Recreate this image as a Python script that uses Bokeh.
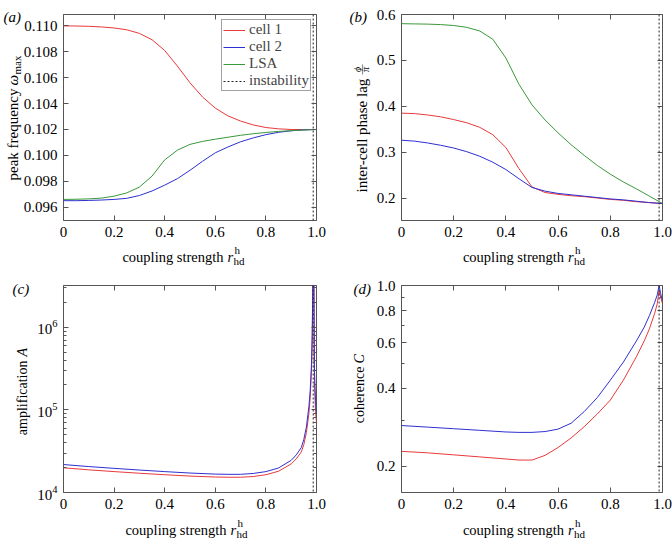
import math
from bokeh.plotting import figure
from bokeh.layouts import gridplot
from bokeh.core.properties import value
from bokeh.models import (Range1d, FixedTicker, LinearAxis, LogAxis, Span,
                          Legend, LegendItem, PrintfTickFormatter)
from bokeh.embed import file_html
from bokeh.resources import INLINE

# ---------------- data ----------------
instability = 0.987

x_ab = [0.0, 0.05, 0.1, 0.15, 0.2, 0.25, 0.3, 0.35, 0.4, 0.45, 0.5,
        0.55, 0.6, 0.65, 0.7, 0.75, 0.8, 0.85, 0.9, 0.95, 1.0]
a_cell1 = [0.11000, 0.10999, 0.10997, 0.10992, 0.10984, 0.10970, 0.10942, 0.10893,
           0.10810, 0.10690, 0.10560, 0.10450, 0.10365, 0.10305, 0.10265, 0.10235,
           0.10215, 0.10205, 0.10200, 0.10199, 0.10200]
a_cell2 = [0.09650, 0.09650, 0.09652, 0.09655, 0.09660, 0.09668, 0.09690, 0.09725,
           0.09770, 0.09820, 0.09885, 0.09955, 0.10020, 0.10065, 0.10105, 0.10135,
           0.10160, 0.10178, 0.10190, 0.10197, 0.10200]
a_lsa = [0.09660, 0.09661, 0.09664, 0.09670, 0.09685, 0.09710, 0.09755, 0.09840,
         0.09965, 0.10040, 0.10085, 0.10108, 0.10125, 0.10140, 0.10155, 0.10167,
         0.10177, 0.10185, 0.10191, 0.10196, 0.10200]

b_cell1 = [0.385, 0.384, 0.381, 0.377, 0.371, 0.364, 0.354, 0.338, 0.310, 0.264, 0.224,
           0.212, 0.208, 0.205, 0.203, 0.200, 0.197, 0.195, 0.192, 0.190, 0.188]
b_cell2 = [0.326, 0.324, 0.320, 0.315, 0.309, 0.301, 0.291, 0.278, 0.262, 0.242, 0.223,
           0.215, 0.210, 0.207, 0.204, 0.201, 0.198, 0.196, 0.193, 0.190, 0.188]
b_lsa = [0.580, 0.5795, 0.579, 0.578, 0.576, 0.572, 0.564, 0.546, 0.505, 0.448, 0.403,
         0.370, 0.342, 0.316, 0.293, 0.271, 0.252, 0.235, 0.220, 0.204, 0.188]

x_c = [0.0, 0.1, 0.2, 0.3, 0.4, 0.5, 0.6, 0.65, 0.7, 0.75, 0.8, 0.85, 0.9, 0.92, 0.94,
       0.95, 0.96, 0.97, 0.975, 0.98, 0.983, 0.985, 0.986, 0.989, 0.992, 0.996, 1.0]
c_cell1 = [1.99e4, 1.88e4, 1.79e4, 1.71e4, 1.64e4, 1.58e4, 1.54e4, 1.53e4, 1.53e4, 1.56e4,
           1.64e4, 1.81e4, 2.22e4, 2.55e4, 3.1e4, 3.8e4, 5.3e4, 9.0e4, 1.4e5, 2.9e5,
           6.5e5, 2.1e6, 7e6, 7e6, 2.2e5, 9.5e4, 7.0e4]
c_cell2 = [2.18e4, 2.06e4, 1.96e4, 1.87e4, 1.79e4, 1.72e4, 1.67e4, 1.66e4, 1.66e4, 1.70e4,
           1.79e4, 1.98e4, 2.45e4, 2.85e4, 3.5e4, 4.4e4, 6.2e4, 1.1e5, 1.7e5, 3.5e5,
           8.0e5, 2.5e6, 8e6, 8e6, 3.0e5, 1.3e5, 9.0e4]

x_d = [0.0, 0.1, 0.2, 0.3, 0.4, 0.45, 0.5, 0.55, 0.6, 0.65, 0.7, 0.75, 0.8, 0.85, 0.9,
       0.93, 0.95, 0.97, 0.98, 0.987, 0.993, 1.0]
d_cell1 = [0.228, 0.225, 0.221, 0.217, 0.213, 0.211, 0.211, 0.220, 0.236, 0.257, 0.284,
           0.318, 0.360, 0.430, 0.530, 0.610, 0.680, 0.780, 0.850, 0.955, 0.900, 0.850]
d_cell2 = [0.287, 0.283, 0.279, 0.275, 0.271, 0.270, 0.270, 0.272, 0.278, 0.293, 0.325,
           0.368, 0.430, 0.505, 0.610, 0.690, 0.765, 0.860, 0.920, 1.000, 0.930, 0.870]

x_ticks = [0.0, 0.2, 0.4, 0.6, 0.8, 1.0]
a_yticks = [0.096, 0.098, 0.100, 0.102, 0.104, 0.106, 0.108, 0.110]
a_yrange = (0.09497, 0.11088)
b_yticks = [0.2, 0.3, 0.4, 0.5, 0.6]
b_yrange = (0.151, 0.6)
c_yticks = [1e4, 1e5, 1e6]
c_yminor = [2e4, 3e4, 4e4, 5e4, 6e4, 7e4, 8e4, 9e4, 2e5, 3e5, 4e5, 5e5, 6e5, 7e5,
            8e5, 9e5, 2e6, 3e6]
c_yrange = (1e4, 3.2e6)
d_yticks = [0.2, 0.4, 0.6, 0.8, 1.0]
d_yminor = [0.3, 0.5, 0.7, 0.9]
d_yrange = (0.158, 1.0)

RED = "#e8393b"
BLUE = "#2f2fd1"
GREEN = "#3a983a"
FRAME = "#555555"
DASH = "#222222"
FONT = "Liberation Serif"


def style_axis(ax, labels=True):
    ax.axis_line_color = None
    ax.major_tick_in = 5
    ax.major_tick_out = 0
    ax.minor_tick_in = 3
    ax.minor_tick_out = 0
    ax.major_tick_line_color = FRAME
    ax.minor_tick_line_color = FRAME
    ax.major_label_text_font = FONT
    if labels:
        ax.major_label_text_color = "black"
        ax.major_label_text_font_size = "15px"
        ax.major_label_standoff = 6
    else:
        ax.major_label_text_color = None
        ax.major_label_text_font_size = "1px"
        ax.major_label_standoff = 0


def make_fig(w, h, bl, br, bt, bb, yr, ytype, yticks, yminor, yfmt, span=True):
    p = figure(width=w, height=h, x_range=Range1d(0, 1), y_range=Range1d(*yr),
               y_axis_type=ytype, output_backend="svg", toolbar_location=None,
               min_border_left=bl, min_border_right=br, min_border_top=bt,
               min_border_bottom=bb)
    p.grid.visible = False
    p.outline_line_color = FRAME
    p.outline_line_width = 1
    p.background_fill_color = "white"
    p.border_fill_color = "white"
    p.xaxis.ticker = FixedTicker(ticks=x_ticks, minor_ticks=[])
    p.xaxis.formatter = PrintfTickFormatter(format="%.1f")
    p.xaxis.major_label_overrides = {0.0: "0"}
    p.yaxis.ticker = FixedTicker(ticks=yticks, minor_ticks=yminor)
    if yfmt is not None:
        p.yaxis.formatter = PrintfTickFormatter(format=yfmt)
    style_axis(p.xaxis[0])
    style_axis(p.yaxis[0])
    top = LinearAxis(ticker=FixedTicker(ticks=x_ticks, minor_ticks=[]))
    style_axis(top, labels=False)
    p.add_layout(top, "above")
    if ytype == "log":
        right = LogAxis(ticker=FixedTicker(ticks=yticks, minor_ticks=yminor))
    else:
        right = LinearAxis(ticker=FixedTicker(ticks=yticks, minor_ticks=yminor))
    style_axis(right, labels=False)
    p.add_layout(right, "right")
    if span:
        p.add_layout(Span(location=instability, dimension="height", line_color=DASH,
                          line_dash="2 2", line_width=1))
    return p


def lab(p, yr, x, y, text, size=14, italic=False, angle=0.0, align="left",
        baseline="alphabetic"):
    # text anchored at the frame's bottom-left corner, shifted by (x, -y) pixels
    p.text(x=[0.0], y=[yr[0]], text=[text], x_offset=x, y_offset=-y, angle=angle,
           text_align=align, text_baseline=baseline,
           text_font=value(FONT), text_font_size=value(f"{size}px"),
           text_font_style="italic" if italic else "normal",
           text_color="black", level="overlay")


def vlab(p, yr, x, y, text, size=15, italic=False, align="left"):
    lab(p, yr, x, y, text, size=size, italic=italic, angle=math.pi / 2, align=align,
        baseline="middle")


def xtitle(p, yr, fw, off):
    q = fw / 2 + 36
    lab(p, yr, q - 4, -off, "coupling strength", size=14.5, align="right")
    lab(p, yr, q, -off, "r", size=14.5, italic=True)
    lab(p, yr, q + 7, -off + 7, "h", size=11)
    lab(p, yr, q + 6, -off - 4, "hd", size=11)


# ---------------- panel (a) ----------------
pa = make_fig(336, 270, 63, 17, 14, 50, a_yrange, "linear", a_yticks, [], "%.3f",
              span=False)
r1 = pa.line(x_ab, a_cell1, line_color=RED, line_width=1)
r2 = pa.line(x_ab, a_cell2, line_color=BLUE, line_width=1)
r3 = pa.line(x_ab, a_lsa, line_color=GREEN, line_width=1)
r4 = pa.segment(x0=[instability], y0=[a_yrange[0]], x1=[instability], y1=[a_yrange[1]],
                line_color=DASH, line_dash="2 2", line_width=1)
leg = Legend(items=[LegendItem(label="cell 1", renderers=[r1]),
                    LegendItem(label="cell 2", renderers=[r2]),
                    LegendItem(label="LSA", renderers=[r3]),
                    LegendItem(label="instability", renderers=[r4])],
             location="top_right")
leg.margin = 5
leg.padding = 1
leg.spacing = 0
leg.glyph_width = 22
leg.glyph_height = 16
leg.label_height = 16
leg.label_standoff = 4
leg.label_text_font = FONT
leg.label_text_font_size = "15px"
leg.border_line_color = "#444444"
leg.border_line_width = 1
leg.background_fill_alpha = 1.0
pa.add_layout(leg)
xtitle(pa, a_yrange, 256, 36)
vlab(pa, a_yrange, -51, 132, "peak frequency", align="right")
vlab(pa, a_yrange, -51, 135, "ω", italic=True)
vlab(pa, a_yrange, -47, 146, "max", size=11)
lab(pa, a_yrange, -60, 204, "(a)", size=15, italic=True)

# ---------------- panel (b) ----------------
pb = make_fig(336, 270, 65, 10, 14, 50, b_yrange, "linear", b_yticks, [], "%.1f")
pb.line(x_ab, b_cell1, line_color=RED, line_width=1)
pb.line(x_ab, b_lsa, line_color=GREEN, line_width=1)
pb.line(x_ab, b_cell2, line_color=BLUE, line_width=1)
xtitle(pb, b_yrange, 261, 36)
vlab(pb, b_yrange, -40, 28, "inter-cell phase lag")
vlab(pb, b_yrange, -44, 151, "ϕ", size=10, italic=True, align="center")
vlab(pb, b_yrange, -36, 151, "π", size=10, italic=True, align="center")
vlab(pb, b_yrange, -40, 151, "—", size=10, align="center")
lab(pb, b_yrange, -52, 204, "(b)", size=15, italic=True)

# ---------------- panel (c) ----------------
pc = make_fig(336, 269, 54, 20, 15, 47, c_yrange, "log", c_yticks, c_yminor, None)
pc.line(x_c, c_cell1, line_color=RED, line_width=1)
pc.line(x_c, c_cell2, line_color=BLUE, line_width=1)
xtitle(pc, c_yrange, 262, 37)
vlab(pc, c_yrange, -41, 132, "amplification", size=14, align="right")
vlab(pc, c_yrange, -41, 136, "A", size=14, italic=True)
lab(pc, c_yrange, -51, 204, "(c)", size=15, italic=True)

# ---------------- panel (d) ----------------
pd = make_fig(336, 269, 65, 10, 15, 47, d_yrange, "log", d_yticks, d_yminor, "%.1f")
pd.line(x_d, d_cell1, line_color=RED, line_width=1)
pd.line(x_d, d_cell2, line_color=BLUE, line_width=1)
xtitle(pd, d_yrange, 261, 37)
vlab(pd, d_yrange, -42, 126, "coherence", size=14, align="right")
vlab(pd, d_yrange, -42, 129, "C", size=14, italic=True)
lab(pd, d_yrange, -48, 204, "(d)", size=15, italic=True)

grid = gridplot([[pa, pb], [pc, pd]], toolbar_location=None)
open("out.html", "w").write(file_html(grid, INLINE))
